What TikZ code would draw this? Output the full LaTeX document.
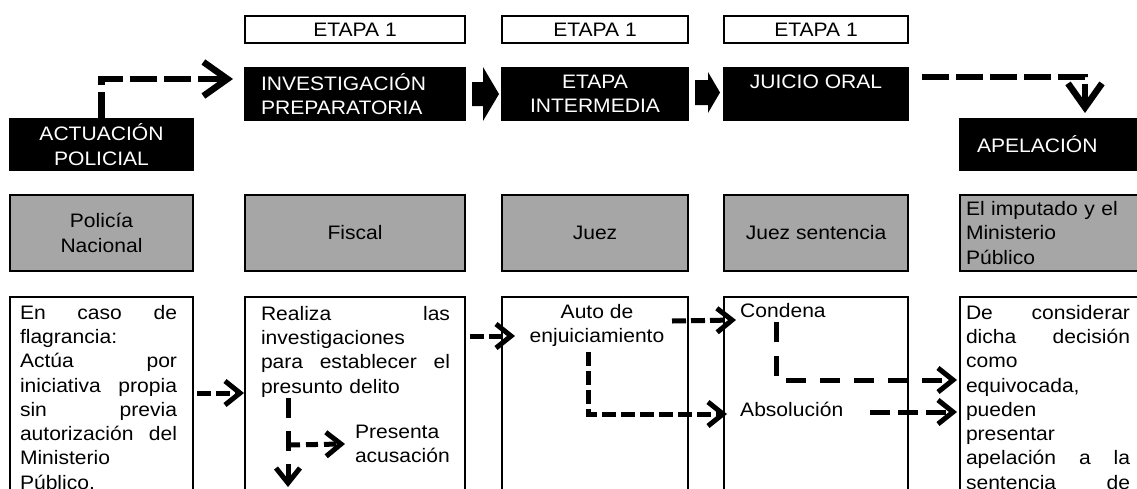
\documentclass[tikz,border=0pt]{standalone}
\usepackage{fontspec}
\setmainfont[FakeStretch=1.08]{Liberation Sans}
\usetikzlibrary{arrows.meta,calc}
\definecolor{midgray}{HTML}{A6A6A6}
\begin{document}
\begin{tikzpicture}[x=1pt,y=-1pt,
  every node/.style={font=\fontsize{19.5}{24.3}\selectfont},
  boxbase/.style={draw,line width=2pt,anchor=north west,inner sep=0pt,outer sep=0pt},
  etapabox/.style={boxbase,fill=white,minimum height=27pt},
  blackbox/.style={boxbase,fill=black,text=white,minimum height=52pt},
  graybox/.style={boxbase,fill=midgray,minimum height=76pt},
  whitebox/.style={boxbase,fill=white,minimum height=230pt},
  txt/.style={anchor=north west,inner sep=0pt,outer sep=0pt,align=left},
  bigdash/.style={line width=6.5pt,line join=miter,dash pattern=on 27pt off 7pt,
    -{Straight Barb[length=24pt,width=34pt,line width=6.5pt]}},
  meddash/.style={line width=5pt,line join=miter,dash pattern=on 14pt off 5pt,
    -{Straight Barb[length=15pt,width=24pt,line width=5pt]}},
  longdash/.style={line width=5pt,line join=miter,dash pattern=on 20pt off 14pt,
    -{Straight Barb[length=15pt,width=24pt,line width=5pt]}},
  blockarrow/.style={fill=black}
]
\useasboundingbox (0,0) rectangle (1137,488);
\clip (0,0) rectangle (1137,488);

% stage labels
\node[etapabox,minimum width=220pt] (e1) at (245,16) {ETAPA 1};
\node[etapabox,minimum width=186pt] (e2) at (502,16) {ETAPA 1};
\node[etapabox,minimum width=184pt] (e3) at (724,16) {ETAPA 1};

% black boxes
\node[blackbox,minimum width=220pt,text width=188pt,inner xsep=16pt,align=left] (inv) at (245,68) {INVESTIGACIÓN\\PREPARATORIA};
\node[blackbox,minimum width=186pt,align=center] (ei) at (502,68) {ETAPA\\INTERMEDIA};
\node[blackbox,minimum width=184pt,align=center] (jo) at (724,68) {JUICIO ORAL\\\mbox{}};
\node[blackbox,minimum width=183pt,minimum height=51pt,align=center] (act) at (10,119) {ACTUACIÓN\\POLICIAL};
\node[blackbox,minimum width=190pt,minimum height=51pt,text width=157pt,inner xsep=17pt,align=left] (apel) at (960,119) {APELACIÓN};

% gray boxes
\node[graybox,minimum width=183pt,align=center] (pn) at (10,195) {Policía\\Nacional};
\node[graybox,minimum width=220pt,align=center] (fg) at (245,195) {Fiscal};
\node[graybox,minimum width=186pt,align=center] (jg) at (502,195) {Juez};
\node[graybox,minimum width=184pt,align=center] (jsg) at (724,195) {Juez sentencia};
\node[graybox,minimum width=190pt,text width=178pt,inner xsep=6pt,align=left] (ig) at (960,195) {El imputado y el\\Ministerio\\Público};

% white boxes
\node[whitebox,minimum width=183pt] (w1) at (10,297) {};
\node[whitebox,minimum width=220pt] (w2) at (245,297) {};
\node[whitebox,minimum width=186pt] (w3) at (502,297) {};
\node[whitebox,minimum width=184pt] (w4) at (724,297) {};
\node[whitebox,minimum width=190pt] (w5) at (960,297) {};

% texts in white boxes
\node[txt,text width=157pt] (t1) at (20,305) {En\hfill caso\hfill de\\ flagrancia:\\ Actúa\hfill por\\ iniciativa\hfill propia\\ sin\hfill previa\\ autorización\hfill del\\ Ministerio\\ Público.};
\node[txt,text width=189pt] (t2) at (261,306) {Realiza\hfill las\\ investigaciones\\ para\hfill establecer\hfill el\\ presunto delito};
\node[anchor=north,align=center,inner sep=0pt] (t3) at (597,304) {Auto de\\enjuiciamiento};
\node[anchor=west,inner sep=0pt] (cond) at (740,311) {Condena};
\node[anchor=west,inner sep=0pt] (abs) at (740,409) {Absolución};
\node[txt,text width=164pt] (t5) at (966,305) {De\hfill considerar\\ dicha\hfill decisión\\ como\\ equivocada,\\ pueden\\ presentar\\ apelación\hfill a\hfill la\\ sentencia\hfill de};
\node[txt] (pres) at (355,425) {Presenta\\acusación};

% named free ends
\coordinate (invin) at ($(inv.north west)+(-12,11)$);
\coordinate (apin) at ($(apel.north west)+(125,-6)$);
\coordinate (fisdown) at ($(w2.north west)+(43,190)$);

% top dashed arrows
\draw[bigdash] (act.north) |- (invin);
\draw[bigdash] ($(jo.east)+(14,-17)$) -| (apin);

% block arrows between stages
\fill[blockarrow] (inv.east) ++(7,-12) -- ++(11,0) -- ++(0,-15) -- ++(16,27) -- ++(-16,27) -- ++(0,-15) -- ++(-11,0) -- cycle;
\fill[blockarrow] (ei.east) ++(7,-14) -- ++(13,0) -- ++(0,-8) -- ++(12,20.5) -- ++(-12,20.5) -- ++(0,-8) -- ++(-13,0) -- cycle;

% lower dashed arrows
\draw[meddash] ($(w1.north east)+(4,96)$) -- ($(w2.north west)+(-1,96)$);
\draw[meddash] ($(w2.north east)+(5,39)$) -- ($(w3.north west)+(13,39)$);
\draw[meddash] ($(w3.north east)+(-16,24)$) -- ($(cond.west)+(-4,9)$);
\draw[meddash] ($(w3.north west)+(86,55)$) |- ($(abs.west)+(-13,5)$);
\draw[longdash] ($(w4.north west)+(52,25)$) |- ($(w5.north west)+(-3,83)$);
\draw[meddash,dash pattern=on 20pt off 8pt] ($(abs.east)+(27,3)$) -- ($(w5.north west)+(-3,115)$);
\draw[meddash,dash pattern=on 20pt off 13pt] ($(w2.north west)+(43,101)$) -- (fisdown);
\draw[meddash,dash pattern=on 12pt off 6pt] ($(w2.north west)+(43,148)$) -- ([xshift=-10pt]pres.west);
\end{tikzpicture}
\end{document}
